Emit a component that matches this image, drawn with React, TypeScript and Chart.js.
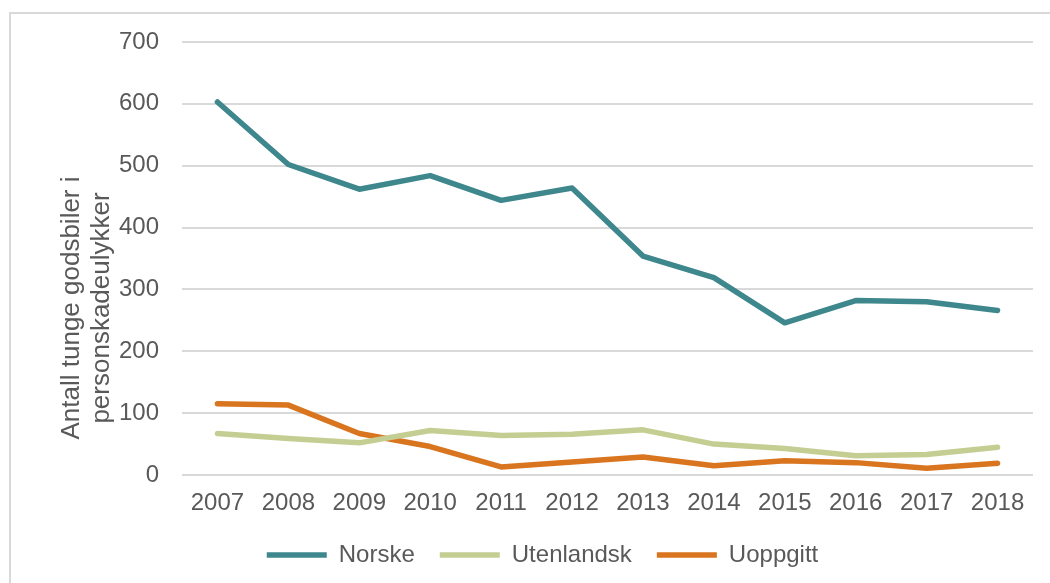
import React, { useEffect, useRef } from "react";
import { Chart, registerables } from "chart.js";

Chart.register(...registerables);

const years = ["2007", "2008", "2009", "2010", "2011", "2012", "2013", "2014", "2015", "2016", "2017", "2018"];
const norske = [603, 502, 462, 484, 444, 464, 354, 319, 246, 282, 280, 266];
const utenlandsk = [67, 59, 52, 72, 64, 66, 73, 50, 43, 31, 33, 45];
const uoppgitt = [115, 113, 67, 46, 13, 21, 29, 15, 23, 20, 11, 19];
const seriesNames = ["Norske", "Utenlandsk", "Uoppgitt"];
const yTicks = [0, 100, 200, 300, 400, 500, 600, 700];
const yTitleLines = ["Antall tunge godsbiler i", "personskadeulykker"];

const FONT = "'Liberation Sans', Arial, sans-serif";
const TEXT = "#595959";

const yTitlePlugin = {
  id: "yTitle",
  afterDraw(chart: any) {
    const ctx = chart.ctx;
    ctx.save();
    ctx.fillStyle = TEXT;
    ctx.font = `26px ${FONT}`;
    ctx.textAlign = "center";
    ctx.textBaseline = "alphabetic";
    const xs = [79, 109];
    yTitleLines.forEach((line, i) => {
      ctx.save();
      ctx.translate(xs[i], 308);
      ctx.rotate(-Math.PI / 2);
      ctx.fillText(line, 0, 0);
      ctx.restore();
    });
    ctx.restore();
  },
};

export default function App() {
  const ref = useRef<HTMLCanvasElement | null>(null);

  useEffect(() => {
    document.body.style.margin = "0";
    const canvas = ref.current;
    if (!canvas) return;
    const colors = ["#3E878C", "#C4CE92", "#D9741F"];
    const data = [norske, utenlandsk, uoppgitt];
    const chart = new Chart(canvas, {
      type: "line",
      data: {
        labels: years,
        datasets: seriesNames.map((name, i) => ({
          label: name,
          data: data[i],
          borderColor: colors[i],
          backgroundColor: colors[i],
          borderWidth: 5.5,
          pointRadius: 0,
          pointHoverRadius: 0,
          tension: 0,
          borderCapStyle: "round" as const,
          borderJoinStyle: "round" as const,
          pointStyle: "line" as const,
        })),
      },
      options: {
        animation: false,
        responsive: false,
        devicePixelRatio: 1,
        layout: { padding: { top: 42, left: 52, right: 17, bottom: 6 } },
        scales: {
          x: {
            offset: true,
            grid: { display: false, drawTicks: false },
            border: { display: false },
            ticks: { color: TEXT, font: { family: FONT, size: 24 }, padding: 14, maxRotation: 0, autoSkip: false },
            afterFit(scale: any) {
              scale.height = 43;
            },
          },
          y: {
            min: 0,
            max: 700,
            afterBuildTicks(scale: any) {
              scale.ticks = yTicks.map((v) => ({ value: v }));
            },
            grid: { color: "#D9D9D9", lineWidth: 2, drawTicks: false },
            border: { display: false },
            ticks: { color: TEXT, font: { family: FONT, size: 24 }, padding: 23 },
            afterFit(scale: any) {
              scale.width = 130;
            },
          },
        },
        plugins: {
          legend: {
            position: "bottom",
            labels: {
              usePointStyle: true,
              pointStyleWidth: 60,
              color: TEXT,
              font: { family: FONT, size: 24 },
              padding: 25,
            },
          },
          tooltip: { enabled: false },
        },
      },
      plugins: [yTitlePlugin],
    });
    return () => chart.destroy();
  }, []);

  return (
    <div style={{ position: "fixed", left: 0, top: 0, width: 1050, height: 583, background: "#fff", overflow: "hidden" }}>
      <div
        style={{
          position: "absolute",
          left: 9,
          top: 12,
          width: 1100,
          height: 600,
          border: "2px solid #D9D9D9",
          boxSizing: "border-box",
        }}
      />
      <canvas ref={ref} width={1050} height={583} style={{ position: "absolute", left: 0, top: 0, display: "block" }} />
    </div>
  );
}
